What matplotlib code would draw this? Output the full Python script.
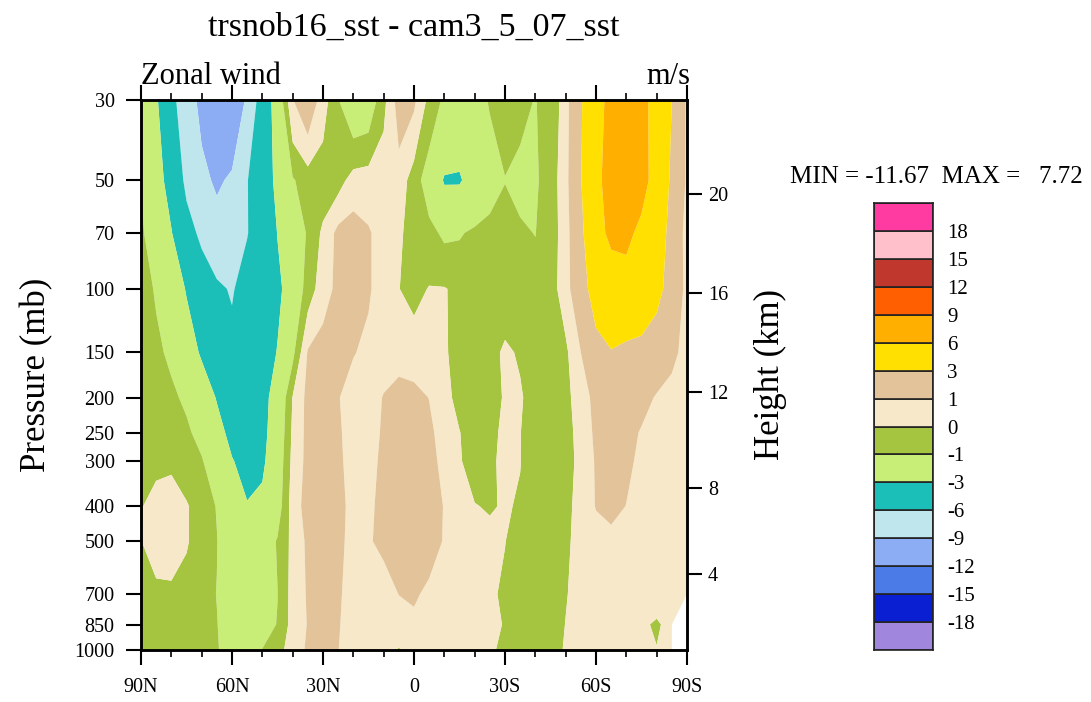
import numpy as np
import matplotlib
matplotlib.use('Agg')
import matplotlib.pyplot as plt
from matplotlib.patches import Rectangle
from matplotlib.ticker import NullLocator, MultipleLocator

plt.rcParams['font.family'] = ['Liberation Serif', 'DejaVu Serif']

# latitude (deg, + = N) and pressure levels (mb)
lat = [90, 85, 80, 75, 70, 65, 60, 55, 50, 45, 40, 35, 30, 25, 20, 15, 10, 5, 0,
       -5, -10, -15, -20, -25, -30, -35, -40, -45, -50, -55, -60, -65, -70, -75, -80, -85, -90]
lev = [30, 50, 70, 100, 150, 200, 250, 300, 400, 500, 700, 850, 1000]

# zonal wind difference (m/s), one list per level, 90N -> 90S
u30 = [-1.8, -2.7, -5.3, -7.5, -9.8, -11.0, -11.67, -8.5, -4.5, -2.0, 0.95, 1.9, 0.5, -0.95, -2.0, -1.8, -0.3, 1.5, 1.2,
       -0.3, -1.2, -2.0, -1.5, -0.9, -0.7, -0.8, -1.03, -0.7, 0.5, 2.8, 5.0, 6.8, 7.72, 6.8, 5.0, 3.0, 0.8]
u50 = [-1.02, -2.2, -3.8, -6.6, -8.2, -9.5, -8.5, -6.1, -4.2, -2.5, -1.1, -0.5, -0.6, -0.4, 0.4, 0.5, 0.6, 0.6, -0.5,
       -1.6, -3.15, -3.15, -2.3, -1.6, -1.02, -1.2, -1.15, -0.5, 0.6, 2.9, 5.4, 7.0, 7.6, 6.9, 5.0, 2.6, 0.8]
u70 = [-0.8, -1.8, -2.9, -4.9, -6.6, -7.6, -7.8, -6.1, -4.6, -2.95, -2.0, -0.85, 0.2, 1.3, 1.5, 1.1, 0.6, 0.2, -0.5,
       -0.7, -1.2, -1.1, -0.8, -0.6, -0.7, -0.9, -1.02, -0.5, 0.5, 2.5, 5.2, 6.5, 6.6, 5.4, 4.2, 2.3, 0.5]
u100 = [-0.6, -1.1, -2.1, -3.1, -4.2, -5.6, -6.2, -5.0, -4.2, -3.4, -2.1, -0.5, 0.5, 1.3, 1.5, 1.1, 0.6, 0.02, -0.3,
        0.05, 0.05, -0.2, -0.05, -0.3, -0.5, -0.7, -0.7, -0.4, 0.5, 2.2, 3.9, 4.6, 4.9, 4.6, 3.6, 2.2, 0.6]
u150 = [-0.5, -0.8, -1.2, -2.2, -3.2, -4.4, -5.3, -5.0, -4.2, -2.9, -1.3, 1.1, 1.5, 1.4, 1.05, 0.8, 0.6, 0.6, 0.5,
        0.3, 0.1, -0.3, -0.6, -0.3, 0.15, -0.1, -0.6, -0.7, -0.2, 1.0, 2.3, 2.9, 2.5, 2.3, 1.8, 1.3, 0.6]
u200 = [-0.3, -0.5, -0.8, -1.2, -2.0, -3.1, -4.0, -4.2, -3.6, -2.2, 0.05, 1.3, 1.5, 1.05, 0.6, 0.6, 1.05, 1.4, 1.3,
        0.98, 0.3, -0.3, -0.6, -0.4, 0.1, 0.1, -0.4, -0.6, -0.3, 0.55, 1.3, 1.8, 1.8, 1.4, 0.9, 0.6, 0.4]
u250 = [-0.2, -0.35, -0.5, -0.8, -1.4, -2.4, -3.5, -3.9, -3.5, -2.0, 0.2, 1.3, 1.5, 1.1, 0.7, 0.7, 1.1, 1.5, 1.5,
        1.2, 0.6, 0.03, -0.5, -0.25, 0.2, 0.02, -0.4, -0.6, -0.4, 0.4, 1.2, 1.5, 1.4, 0.9, 0.6, 0.4, 0.3]
u300 = [-0.1, -0.2, -0.15, -0.6, -0.9, -1.8, -2.9, -3.6, -3.3, -1.8, 0.3, 1.3, 1.5, 1.15, 0.7, 0.7, 1.2, 1.6, 1.7,
        1.35, 0.7, 0.1, -0.5, -0.15, 0.2, 0.03, -0.5, -0.6, -0.4, 0.3, 1.1, 1.4, 1.2, 0.8, 0.55, 0.4, 0.3]
u400 = [-0.05, 0.3, 0.4, 0.1, -0.5, -1.05, -2.4, -2.9, -2.6, -1.6, 0.5, 1.4, 1.6, 1.2, 0.8, 0.8, 1.3, 1.7, 1.8,
        1.5, 0.95, 0.5, 0.05, -0.1, 0.1, -0.1, -0.5, -0.6, -0.3, 0.4, 1.05, 1.3, 0.98, 0.7, 0.5, 0.4, 0.3]
u500 = [-0.02, 0.4, 0.5, 0.1, -0.5, -0.97, -1.8, -2.2, -1.8, -0.9, 0.3, 1.2, 1.5, 1.15, 0.8, 0.9, 1.25, 1.8, 1.9,
        1.6, 0.9, 0.6, 0.45, 0.3, 0.02, -0.4, -0.6, -0.6, -0.15, 0.3, 0.6, 0.7, 0.6, 0.5, 0.4, 0.3, 0.3]
u700 = [-0.3, -0.2, -0.2, -0.4, -0.7, -1.02, -1.5, -1.8, -1.6, -1.02, 0.4, 1.1, 1.3, 1.1, 0.7, 0.6, 0.5, 1.02, 1.2,
        0.7, 0.5, 0.4, 0.3, 0.15, -0.15, -0.5, -0.6, -0.5, -0.05, 0.3, 0.4, 0.4, 0.4, 0.3, 0.3, 0.2, 0.2]
u850 = [-0.4, -0.3, -0.3, -0.5, -0.8, -0.97, -1.5, -1.8, -1.5, -0.95, 0.4, 1.05, 1.2, 1.05, 0.7, 0.5, 0.4, 0.45, 0.7,
        0.4, 0.35, 0.3, 0.25, 0.2, -0.05, -0.5, -0.6, -0.4, 0.02, 0.3, 0.3, 0.3, 0.2, 0.1, -0.08, 0.2, np.nan]
u1000 = [-0.5, -0.4, -0.4, -0.6, -0.8, -0.95, -1.3, -1.5, -0.97, -0.5, 0.65, 1.1, 1.2, 1.02, 0.5, 0.3, 0.2, -0.05, 0.2,
         0.3, 0.3, 0.3, 0.2, 0.2, -0.3, -0.5, -0.5, -0.4, 0.1, 0.3, 0.3, 0.2, 0.15, 0.1, 0.02, 0.2, np.nan]

clev = [-18, -15, -12, -9, -6, -3, -1, 0, 1, 3, 6, 9, 12, 15, 18]
colors = ['#A086DC', '#0A1ED2', '#4A7BE6', '#8CACF4', '#BEE6EC', '#1CBEB8', '#C8EE78', '#A5C43F',
          '#F8E8CA', '#E3C49A', '#FFE000', '#FFAF00', '#FF5F00', '#C0372D', '#FFC0CB', '#FF3AA0']

xticks = [90, 60, 30, 0, -30, -60, -90]
xlabels = ['90N', '60N', '30N', '0', '30S', '60S', '90S']
hgt_km = [4, 8, 12, 16, 20]


def std_pres(z_km):
    # standard atmosphere pressure (mb) for a height
    z = z_km * 1000.0
    if z <= 11000:
        return 1013.25 * (1 - 2.25577e-5 * z) ** 5.25588
    return 226.32 * np.exp(-(z - 11000) / 6341.6)


u = np.array([u30, u50, u70, u100, u150, u200, u250, u300, u400, u500, u700, u850, u1000])
u = np.ma.masked_invalid(u)

W, H = 1091, 702
fig = plt.figure(figsize=(W / 100, H / 100), dpi=100)
ax = fig.add_axes([141 / W, 1 - 650 / H, 546 / W, 550 / H])

ax.contourf(lat, lev, u, levels=clev, colors=colors, extend='both', antialiased=True)
ax.set_yscale('log')
ax.set_ylim(1000, 30)
ax.set_xlim(90, -90)

ax.set_yticks(lev)
ax.set_yticklabels([str(p) for p in lev])
ax.yaxis.set_minor_locator(NullLocator())
ax.set_xticks(xticks)
ax.set_xticklabels(xlabels)
ax.xaxis.set_minor_locator(MultipleLocator(10))

ax.tick_params(axis='both', which='major', direction='out', length=11, width=1.5, labelsize=14.5)
ax.tick_params(axis='x', which='minor', direction='out', length=5, width=1.2)
ax.tick_params(axis='x', which='both', top=True, pad=9)
ax.tick_params(axis='y', right=False, pad=8)
for s in ax.spines.values():
    s.set_linewidth(1.8)

ax2 = ax.twinx()
ax2.set_yscale('log')
ax2.set_ylim(1000, 30)
ax2.set_yticks([std_pres(z) for z in hgt_km])
ax2.set_yticklabels([str(z) for z in hgt_km])
ax2.yaxis.set_minor_locator(NullLocator())
ax2.tick_params(axis='y', direction='out', length=11, width=1.5, labelsize=14.5, pad=4)
for s in ax2.spines.values():
    s.set_linewidth(1.8)

fig.text(414 / W, 1 - 36 / H, 'trsnob16_sst - cam3_5_07_sst', ha='center', va='baseline', fontsize=24.5)
fig.text(141 / W, 1 - 84 / H, 'Zonal wind', ha='left', va='baseline', fontsize=22)
fig.text(690 / W, 1 - 84 / H, 'm/s', ha='right', va='baseline', fontsize=22)
fig.text(37 / W, 1 - 375 / H, 'Pressure (mb)', ha='center', va='center', rotation=90, fontsize=25)
fig.text(770 / W, 1 - 375 / H, 'Height (km)', ha='center', va='center', rotation=90, fontsize=25)
fig.text(790 / W, 1 - 177 / H, 'MIN = -11.67  MAX =   7.72', ha='left', va='center', fontsize=18)

# label bar
cax = fig.add_axes([874 / W, 1 - 650 / H, 59 / W, 447 / H])
for i, c in enumerate(colors):
    cax.add_patch(Rectangle((0, i), 1, 1, facecolor=c, edgecolor='#222222', linewidth=1.2))
cax.set_xlim(0, 1)
cax.set_ylim(0, len(colors))
cax.set_xticks([])
cax.yaxis.tick_right()
cax.set_yticks(range(1, len(colors)))
cax.set_yticklabels([str(v) for v in clev])
cax.tick_params(axis='y', length=0, labelsize=15, pad=10)
for s in cax.spines.values():
    s.set_linewidth(1.2)
    s.set_color('#222222')

fig.savefig('out.png', dpi=100)
